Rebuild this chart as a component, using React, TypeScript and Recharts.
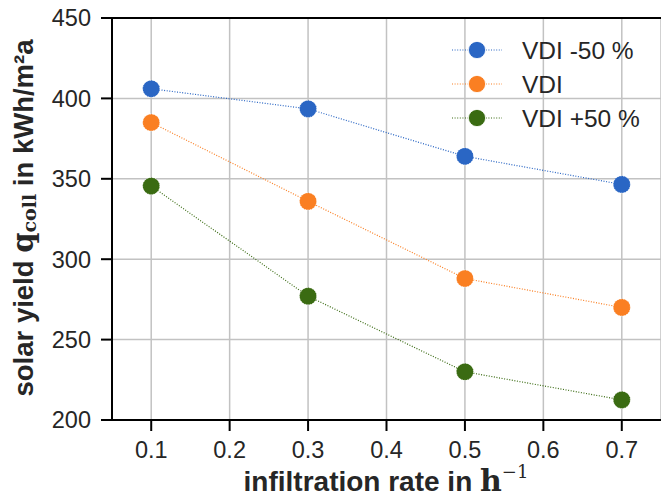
import React from "react";
import { LineChart, Line, XAxis, YAxis, CartesianGrid, Legend, ReferenceLine } from "recharts";

// infiltration rate in 1/h
const rates = [0.1, 0.3, 0.5, 0.7];
// solar yield in kWh/m²a
const vdiMinus50 = [406, 393.5, 364, 346.5];
const vdiBase = [385, 336, 288, 270];
const vdiPlus50 = [345.5, 277, 230, 212.5];

const xTicks = [0.1, 0.2, 0.3, 0.4, 0.5, 0.6, 0.7];
const yTicks = [200, 250, 300, 350, 400, 450];

const seriesKeys = ["minus", "base", "plus"];
const seriesNames = ["VDI -50 %", "VDI", "VDI +50 %"];
const colors = ["#2a66c4", "#fa7f22", "#3a6b12"];

const data = rates.map((r, i) => ({
  rate: r,
  minus: vdiMinus50[i],
  base: vdiBase[i],
  plus: vdiPlus50[i],
}));

const sans = "'Liberation Sans', Arial, sans-serif";
const serif = "'DejaVu Serif', 'Liberation Serif', serif";
const tickStyle = { fontSize: 23.5, fill: "#262626", fontFamily: sans };

const YLabel = () => (
  <text
    x={23}
    y={218}
    transform="rotate(-90 23 218)"
    textAnchor="middle"
    dominantBaseline="central"
    fontFamily={sans}
    fontWeight="bold"
    fontSize={27.5}
    fill="#262626"
  >
    solar yield{" "}
    <tspan fontFamily={serif} fontWeight="bold" fontSize={29}>q</tspan>
    <tspan fontFamily={serif} fontWeight="bold" fontSize={19} dy={6}>coll</tspan>
    <tspan dy={-6}> in kWh/m²a</tspan>
  </text>
);

const XLabel = () => (
  <text
    x={386}
    y={491}
    textAnchor="middle"
    fontFamily={sans}
    fontWeight="bold"
    fontSize={28}
    fill="#262626"
  >
    infiltration rate in{" "}
    <tspan fontFamily={serif} fontWeight="bold" fontSize={30}>h</tspan>
    <tspan fontFamily={serif} fontWeight="normal" fontSize={18} dy={-13}>−1</tspan>
  </text>
);

const renderLegend = () => (
  <svg width={210} height={110}>
    {seriesNames.map((name, i) => {
      const y = 17 + i * 34;
      return (
        <g key={name}>
          <line x1={2} x2={52} y1={y} y2={y} stroke={colors[i]} strokeWidth={1.2} strokeDasharray="1 1.6" />
          <circle cx={27} cy={y} r={8.6} fill={colors[i]} stroke="#fff" strokeWidth={0.8} />
          <text x={72} y={y} dominantBaseline="central" fontFamily={sans} fontSize={24.5} fill="#262626">
            {name}
          </text>
        </g>
      );
    })}
  </svg>
);

export default function App() {
  return (
    <div style={{ position: "absolute", left: 0, top: 0, width: 661, height: 502, background: "#fff" }}>
      <LineChart width={661} height={502} data={data} margin={{ top: 18, right: 0, bottom: 0, left: 0 }}>
        <CartesianGrid stroke="#c2c2c2" strokeWidth={1.5} />
        <XAxis
          dataKey="rate"
          type="number"
          domain={[0.05, 0.75]}
          ticks={xTicks}
          tickFormatter={(v: number) => v.toFixed(1)}
          height={82}
          tick={tickStyle}
          tickSize={11}
          tickMargin={10}
          axisLine={{ stroke: "#000", strokeWidth: 2 }}
          tickLine={{ stroke: "#000", strokeWidth: 2 }}
          allowDataOverflow
          label={{ content: () => <XLabel /> }}
        />
        <YAxis
          type="number"
          domain={[200, 450]}
          ticks={yTicks}
          width={112}
          tick={tickStyle}
          tickSize={11}
          tickMargin={10}
          axisLine={{ stroke: "#000", strokeWidth: 2 }}
          tickLine={{ stroke: "#000", strokeWidth: 2 }}
          allowDataOverflow
          label={{ content: () => <YLabel /> }}
        />
        <ReferenceLine y={450} stroke="#000" strokeWidth={2} />
        <Legend
          content={renderLegend}
          layout="vertical"
          align="center"
          verticalAlign="middle"
          wrapperStyle={{ position: "absolute", left: 450, top: 33, width: 210, height: 110 }}
        />
        {seriesKeys.map((k, i) => (
          <Line
            key={k}
            dataKey={k}
            name={seriesNames[i]}
            type="linear"
            stroke={colors[i]}
            strokeWidth={1.2}
            strokeDasharray="1 1.6"
            dot={{ r: 8.6, fill: colors[i], stroke: "#fff", strokeWidth: 0.8 }}
            activeDot={false}
            isAnimationActive={false}
          />
        ))}
      </LineChart>
    </div>
  );
}
